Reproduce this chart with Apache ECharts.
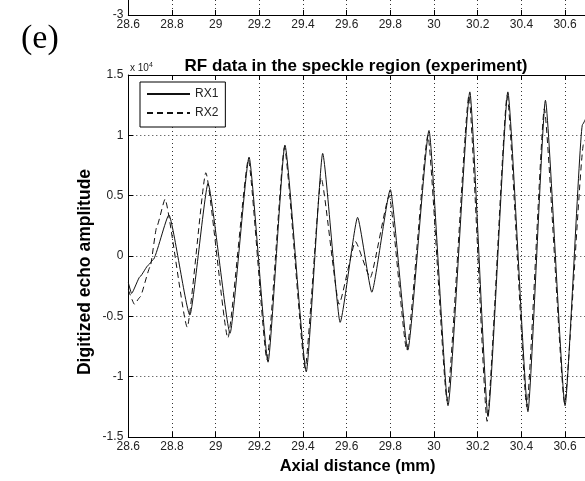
<!DOCTYPE html>
<html><head><meta charset="utf-8">
<script src="https://cdn.jsdelivr.net/npm/echarts@6/dist/echarts.min.js"></script>
<style>html,body{margin:0;padding:0;background:#fff}#c{width:585px;height:481px}</style>
</head><body><div id="c"></div>
<script>
// Axial distance (mm) and digitized echo amplitude
const rx1X = [28.600, 28.615, 28.654, 28.692, 28.714, 28.786, 28.882, 28.965, 29.066, 29.153, 29.240, 29.317, 29.415, 29.490, 29.570, 29.650, 29.715, 29.800, 29.880, 29.977, 30.064, 30.164, 30.247, 30.338, 30.430, 30.510, 30.600, 30.680, 30.700];
const rx1Y = [-2200, -3100, -1700, -750, -300, 3400, -4900, 6000, -6400, 8200, -8800, 9200, -9600, 8500, -5500, 3200, -3000, 5500, -7800, 10400, -12400, 13600, -13300, 13600, -12900, 12900, -12400, 10900, 11600];
const rx2X = [28.600, 28.628, 28.654, 28.700, 28.730, 28.768, 28.870, 28.955, 29.056, 29.150, 29.235, 29.315, 29.410, 29.483, 29.565, 29.640, 29.708, 29.795, 29.875, 29.972, 30.060, 30.160, 30.243, 30.335, 30.425, 30.505, 30.598, 30.685, 30.700];
const rx2Y = [-2800, -4000, -3400, -900, 2400, 4700, -5900, 6900, -6800, 8000, -8600, 9000, -9300, 6500, -4000, 1200, -1800, 5000, -7800, 10000, -12000, 13300, -13700, 13300, -12500, 12200, -12200, 9300, 10000];
const seriesNames = ['RX1', 'RX2'];
const xRange = [28.6, 30.7];
const yRange = [-15000, 15000];

const F = 'Liberation Sans, Arial, sans-serif';
const chart = echarts.init(document.getElementById('c'), null, {renderer: 'canvas'});
const pairs = (xs, ys) => xs.map((x, i) => [x, ys[i]]);
const grid0 = {left: 128.3, right: -1.9, top: 75, bottom: 44, containLabel: false, outerBoundsMode: 'none'};
const grid1 = {left: 128.3, right: -1.9, top: -60, height: 75, containLabel: false, outerBoundsMode: 'none'};
const dotted = {type: [1, 3], color: '#333', width: 1};
const lbl = {color: '#222', fontFamily: F, fontSize: 12};

chart.setOption({
  animation: false,
  backgroundColor: '#fff',
  title: {
    text: 'RF data in the speckle region (experiment)',
    left: 351, top: 53, textAlign: 'center',
    textStyle: {fontFamily: F, fontSize: 17, fontWeight: 'bold', color: '#000'}
  },
  legend: {
    data: seriesNames, orient: 'vertical', left: 140, top: 82,
    itemWidth: 43, itemHeight: 10, itemGap: 7,
    padding: [6, 7, 8, 6],
    itemStyle: {opacity: 0},
    borderColor: '#000', borderWidth: 1, backgroundColor: '#fff',
    textStyle: {fontFamily: F, fontSize: 12, color: '#222'}
  },
  grid: [grid0, grid1],
  xAxis: [
    {type: 'value', gridIndex: 0, min: xRange[0], max: xRange[1], interval: 0.2,
     axisLine: {show: true, onZero: false, lineStyle: {color: '#000'}},
     axisTick: {show: true, inside: true, length: 5, lineStyle: {color: '#000'}},
     axisLabel: Object.assign({margin: 4, showMaxLabel: false}, lbl),
     splitLine: {show: true, lineStyle: dotted},
     name: 'Axial distance (mm)', nameLocation: 'middle', nameGap: 20,
     nameTextStyle: {fontFamily: F, fontSize: 16.5, fontWeight: 'bold', color: '#000', verticalAlign: 'top'}},
    {type: 'value', gridIndex: 0, position: 'top', min: xRange[0], max: xRange[1], interval: 0.2,
     axisLine: {show: true, onZero: false, lineStyle: {color: '#000'}},
     axisTick: {show: true, inside: true, length: 5, lineStyle: {color: '#000'}},
     axisLabel: {show: false}, splitLine: {show: false}},
    {type: 'value', gridIndex: 1, min: xRange[0], max: xRange[1], interval: 0.2,
     axisLine: {show: true, onZero: false, lineStyle: {color: '#000'}},
     axisTick: {show: true, inside: true, length: 5, lineStyle: {color: '#000'}},
     axisLabel: Object.assign({margin: 4, showMaxLabel: false}, lbl),
     splitLine: {show: true, lineStyle: dotted}}
  ],
  yAxis: [
    {type: 'value', gridIndex: 0, min: yRange[0], max: yRange[1], interval: 5000,
     axisLine: {show: true, onZero: false, lineStyle: {color: '#000'}},
     axisTick: {show: true, inside: true, length: 5, lineStyle: {color: '#000'}},
     axisLabel: Object.assign({margin: 5, formatter: v => String(Math.round(v / 1000) / 10)}, lbl),
     splitLine: {show: true, lineStyle: dotted}},
    {type: 'value', gridIndex: 1, min: -3, max: 3, interval: 6,
     axisLine: {show: true, onZero: false, lineStyle: {color: '#000'}},
     axisTick: {show: true, inside: true, length: 5, lineStyle: {color: '#000'}},
     axisLabel: Object.assign({margin: 5}, lbl),
     splitLine: {show: false}}
  ],
  graphic: [
    {type: 'text', left: 21, top: 22, style: {text: '(e)', font: '34px "Liberation Serif", "Times New Roman", serif', fill: '#000'}},
    {type: 'text', x: 130, y: 68, style: {text: '{a|x 10}{b|4}', rich: {a: {fontFamily: F, fontSize: 10, fill: '#222'}, b: {fontFamily: F, fontSize: 7, fill: '#222', verticalAlign: 'top', padding: [0,0,6,0]}}, textVerticalAlign: 'middle'}},
    {type: 'text', x: 85, y: 272, rotation: Math.PI / 2,
     style: {text: 'Digitized echo amplitude', font: 'bold 17.5px "Liberation Sans", Arial, sans-serif', fill: '#000', textAlign: 'center', textVerticalAlign: 'middle'}}
  ],
  series: [
    {name: seriesNames[0], type: 'line', xAxisIndex: 0, yAxisIndex: 0, data: pairs(rx1X, rx1Y),
     symbol: 'none', smooth: 0.15, smoothMonotone: 'x',
     lineStyle: {color: '#111', width: 1, type: 'solid'}, itemStyle: {color: '#111'}},
    {name: seriesNames[1], type: 'line', xAxisIndex: 0, yAxisIndex: 0, data: pairs(rx2X, rx2Y),
     symbol: 'none', smooth: 0.15, smoothMonotone: 'x',
     lineStyle: {color: '#111', width: 1, type: [6, 4]}, itemStyle: {color: '#111'}}
  ]
});
</script></body></html>
